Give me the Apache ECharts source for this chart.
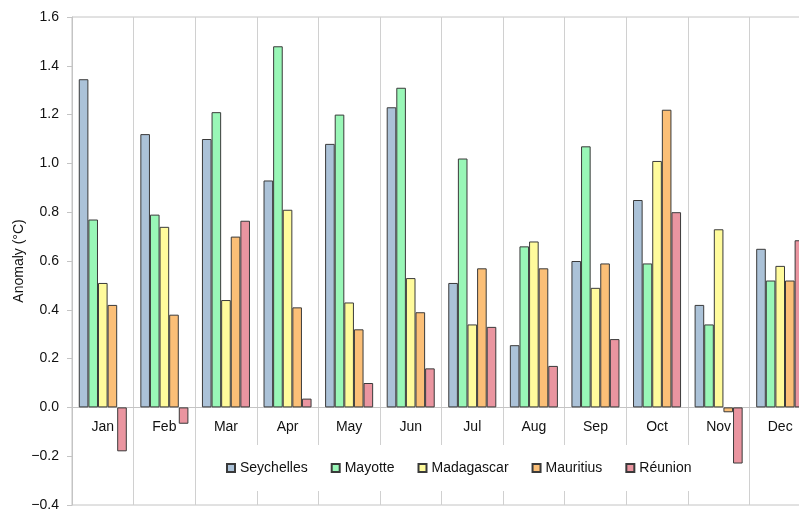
<!DOCTYPE html>
<html>
<head>
<meta charset="utf-8">
<script src="https://cdn.jsdelivr.net/npm/echarts@6/dist/echarts.min.js"></script>
<style>
html,body{margin:0;padding:0;background:#fff;overflow:hidden;}
#chart{width:830px;height:510px;}
</style>
</head>
<body>
<div id="chart"></div>
<script>
const months = ['Jan','Feb','Mar','Apr','May','Jun','Jul','Aug','Sep','Oct','Nov','Dec'];
const seychelles = [1.345, 1.12, 1.10, 0.93, 1.08, 1.23, 0.51, 0.255, 0.60, 0.85, 0.42, 0.65];
const mayotte    = [0.77, 0.79, 1.21, 1.48, 1.20, 1.31, 1.02, 0.66, 1.07, 0.59, 0.34, 0.52];
const madagascar = [0.51, 0.74, 0.44, 0.81, 0.43, 0.53, 0.34, 0.68, 0.49, 1.01, 0.73, 0.58];
const mauritius  = [0.42, 0.38, 0.70, 0.41, 0.32, 0.39, 0.57, 0.57, 0.59, 1.22, -0.02, 0.52];
const reunion    = [-0.18, -0.067, 0.765, 0.036, 0.10, 0.16, 0.33, 0.17, 0.28, 0.80, -0.23, 0.685];
const seriesNames = ['Seychelles','Mayotte','Madagascar','Mauritius','Réunion'];
const seriesColors = ['#abc2d8','#99f7b7','#fffb9c','#fbbf77','#ea95a0'];
const seriesData = [seychelles, mayotte, madagascar, mauritius, reunion];

const FONT = '"Liberation Sans", Arial, sans-serif';
const GRID_TOP = 17, GRID_BOTTOM = 5, CH = 510;
const Y_MIN = -0.4, Y_MAX = 1.6;
// distance from grid bottom edge up to the zero line (layout of the category axis)
const zeroOffset = -(CH - GRID_TOP - GRID_BOTTOM) * (0 - Y_MIN) / (Y_MAX - Y_MIN);

const chart = echarts.init(document.getElementById('chart'), null, {renderer:'canvas'});
chart.setOption({
  animation: false,
  backgroundColor: '#fff',
  textStyle: {fontFamily: FONT},
  grid: {left: 72, right: 19, top: GRID_TOP, bottom: GRID_BOTTOM, show: true, borderColor: '#c4c4c4', borderWidth: 1,
         containLabel: false, outerBoundsMode: 'none'},
  legend: {
    data: seriesNames,
    left: 201, top: 445,
    padding: [16, 16, 16, 25],
    backgroundColor: '#fff',
    itemWidth: 8, itemHeight: 8, itemGap: 23,
    icon: 'rect',
    textStyle: {fontFamily: FONT, fontSize: 14, color: '#111'}
  },
  xAxis: {
    type: 'category',
    data: months,
    position: 'bottom',
    offset: zeroOffset,
    axisLine: {show: true, onZero: false, lineStyle: {color: '#c4c4c4', width: 1}},
    axisTick: {show: false},
    axisLabel: {fontFamily: FONT, fontSize: 14, color: '#111', margin: 13},
    splitLine: {show: true, lineStyle: {color: '#d0d0d0', width: 1}}
  },
  yAxis: {
    type: 'value',
    min: Y_MIN, max: Y_MAX, interval: 0.2,
    name: 'Anomaly (°C)',
    nameLocation: 'middle',
    nameGap: 46,
    nameMoveOverlap: false,
    nameTextStyle: {fontFamily: FONT, fontSize: 14, color: '#111'},
    axisLine: {show: true, lineStyle: {color: '#c4c4c4'}},
    axisTick: {show: true, length: 5, lineStyle: {color: '#c4c4c4'}},
    axisLabel: {
      fontFamily: FONT, fontSize: 14, color: '#111', margin: 13,
      formatter: function(v){ const s = Math.abs(v).toFixed(1); return (v < -1e-9 ? '\u2212' : '') + s; }
    },
    splitLine: {show: false}
  },
  series: seriesNames.map(function(n, i){
    return {
      name: n, type: 'bar',
      data: seriesData[i],
      barGap: '0%', barCategoryGap: '22%',
      itemStyle: {color: seriesColors[i], borderColor: '#3a3a3a', borderWidth: 1}
    };
  })
});
</script>
</body>
</html>
